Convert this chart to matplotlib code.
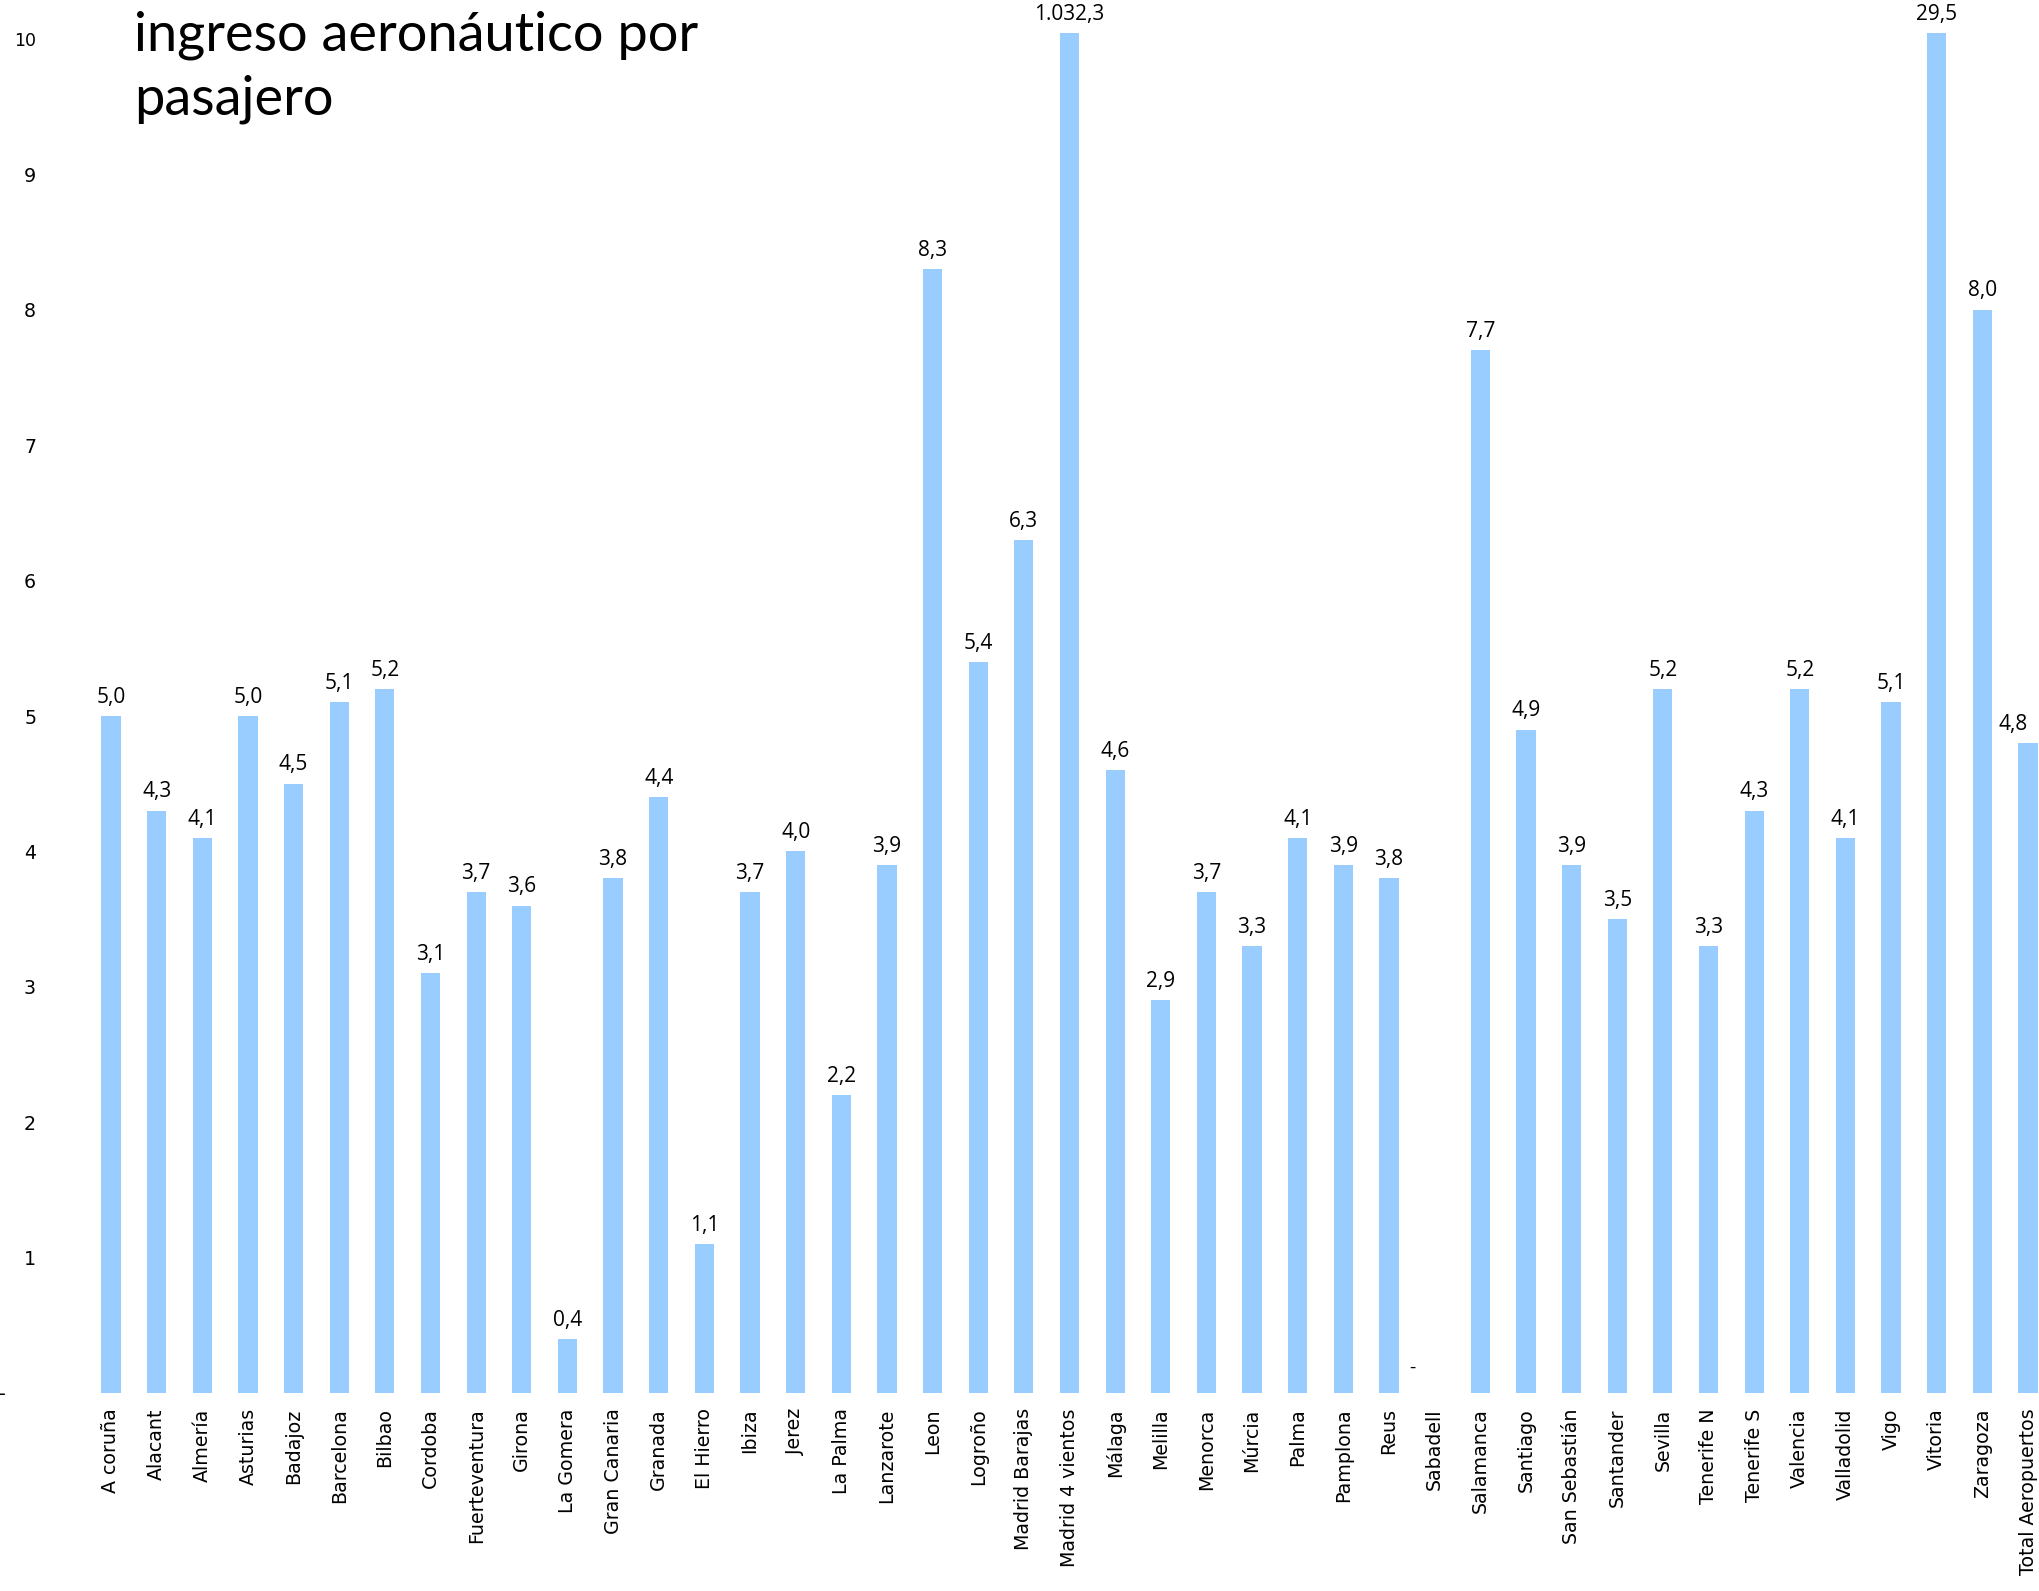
import matplotlib.pyplot as plt

# data
aeropuertos = ['A coruña', 'Alacant', 'Almería', 'Asturias', 'Badajoz', 'Barcelona', 'Bilbao',
               'Cordoba', 'Fuerteventura', 'Girona', 'La Gomera', 'Gran Canaria', 'Granada',
               'El Hierro', 'Ibiza', 'Jerez', 'La Palma', 'Lanzarote', 'Leon', 'Logroño',
               'Madrid Barajas', 'Madrid 4 vientos', 'Málaga', 'Melilla', 'Menorca', 'Múrcia',
               'Palma', 'Pamplona', 'Reus', 'Sabadell', 'Salamanca', 'Santiago', 'San Sebastián',
               'Santander', 'Sevilla', 'Tenerife N', 'Tenerife S', 'Valencia', 'Valladolid',
               'Vigo', 'Vitoria', 'Zaragoza', 'Total Aeropuertos']
ingreso = [5.0, 4.3, 4.1, 5.0, 4.5, 5.1, 5.2,
           3.1, 3.7, 3.6, 0.4, 3.8, 4.4,
           1.1, 3.7, 4.0, 2.2, 3.9, 8.3, 5.4,
           6.3, 1032.3, 4.6, 2.9, 3.7, 3.3,
           4.1, 3.9, 3.8, 0.0, 7.7, 4.9, 3.9,
           3.5, 5.2, 3.3, 4.3, 5.2, 4.1,
           5.1, 29.5, 8.0, 4.8]
y_ticks = list(range(0, 11))
y_labels = ['-     '] + [str(t) for t in y_ticks[1:]]


def fmt(v):
    # spanish number format: 1.032,3
    s = f'{v:,.1f}'
    return s.replace(',', 'X').replace('.', ',').replace('X', '.')


W, H = 2040, 1591
fig = plt.figure(figsize=(W / 100, H / 100), dpi=100)
L, base, top = 50, 1393, 33
ax = fig.add_axes([L / W, (H - base) / H, (W - L) / W, (base - top) / H])

x = list(range(len(aeropuertos)))
ymax = 10 + 6 / 135
ax.bar(x, ingreso, width=0.42, color='#99ccff')
ax.set_ylim(0, ymax)
ax.set_xlim(-(111 - L) / 45.65, 42 + 12 / 45.65)

# value labels
last = len(x) - 1
for i, v in zip(x, ingreso):
    if v == 0:
        ax.annotate('-', (i, 0), xytext=(-16, 12), textcoords='offset points',
                    ha='center', va='bottom', fontsize=14, family='Open Sans')
        continue
    # last label is pushed inside the figure
    ha, dx = ('right', 0) if i == last else ('center', 0)
    ax.annotate(fmt(v), (i, min(v, ymax)), xytext=(dx, 6), textcoords='offset points',
                ha=ha, va='bottom', fontsize=15, family='Open Sans',
                annotation_clip=False)

ax.set_xticks(x)
ax.set_xticklabels(aeropuertos, rotation=90, fontsize=13.7)
ax.set_yticks(y_ticks)
ax.set_yticklabels(y_labels, fontsize=13.7)
ax.get_yticklabels()[-1].set_fontsize(12.5)
ax.tick_params(axis='both', length=0)
ax.tick_params(axis='x', pad=11)
ax.tick_params(axis='y', pad=10)
for sp in ax.spines.values():
    sp.set_visible(False)

fig.text(134 / W, 1 - 10 / H, 'ingreso aeronáutico por\npasajero', ha='left', va='top',
         fontsize=39, family='Lato', linespacing=1.38)

fig.savefig('out.png', dpi=100)
